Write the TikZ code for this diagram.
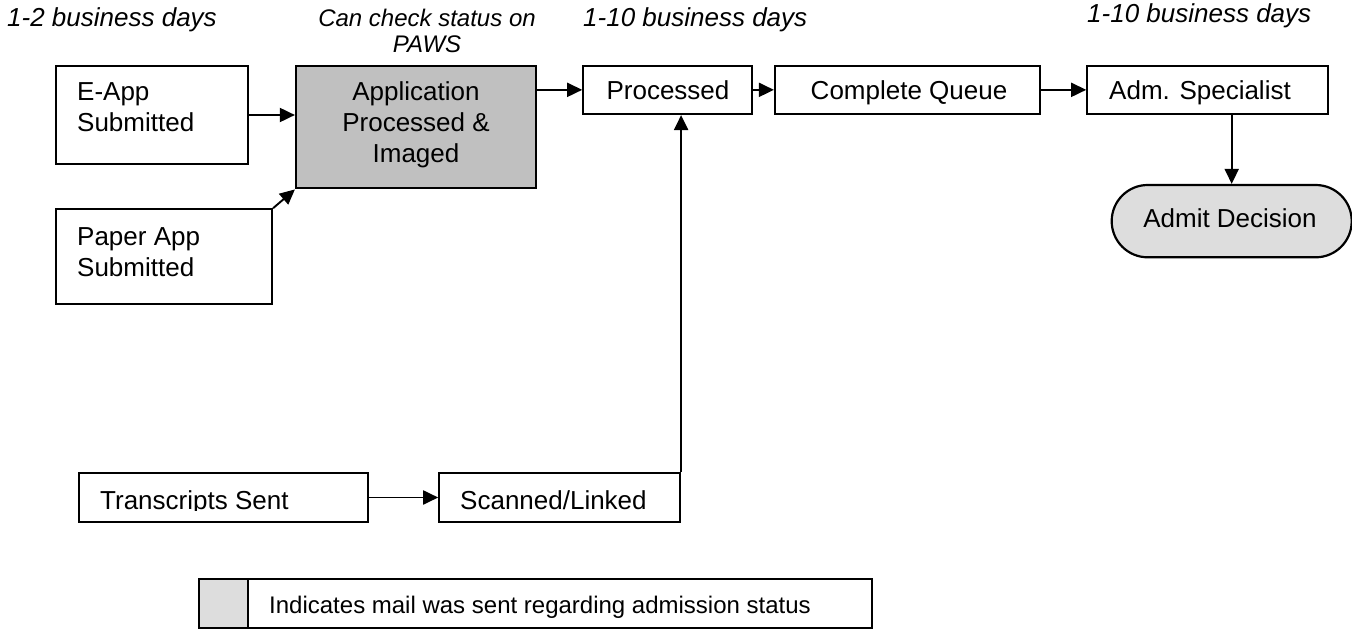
\documentclass[tikz,border=0pt]{standalone}
\usepackage{fontspec}
\setmainfont{Liberation Sans}
\usetikzlibrary{arrows.meta}
\definecolor{darkfill}{HTML}{C0C0C0}
\definecolor{lightfill}{HTML}{DDDDDD}
\begin{document}
\begin{tikzpicture}[x=1pt,y=-1pt,
  box/.style={draw, line width=2.2pt, rectangle, inner sep=0pt},
  conn/.style={line width=1.9pt, -{Triangle[length=15pt,width=14pt]}},
  txt/.style={inner sep=0pt, font=\fontsize{26}{31}\selectfont},
  ital/.style={inner sep=0pt, font=\fontsize{26}{31}\selectfont\itshape},
  smallital/.style={inner sep=0pt, font=\fontsize{24}{26}\selectfont\itshape},
  legtxt/.style={inner sep=0pt, font=\fontsize{24}{28}\selectfont}]
\useasboundingbox (0,0) rectangle (1352,631);

% boxes
\node[box, minimum width=192.6pt, minimum height=98.6pt] (eapp) at (152,115) {};
\node[box, fill=darkfill, minimum width=240pt, minimum height=122.3pt] (app) at (416,127.2) {};
\node[box, minimum width=216.3pt, minimum height=94.7pt] (paper) at (163.85,256.65) {};
\node[box, minimum width=169pt, minimum height=48.3pt] (proc) at (667.8,89.85) {};
\node[box, minimum width=265pt, minimum height=48.3pt] (cq) at (907.5,89.85) {};
\node[box, minimum width=241pt, minimum height=48.3pt] (adm) at (1207.8,89.85) {};
\node[box, fill=lightfill, rounded corners=36pt, minimum width=240pt, minimum height=72.3pt] (admit) at (1231.7,221.15) {};
\node[box, minimum width=289pt, minimum height=48.4pt] (trans) at (223.8,497.5) {};
\node[box, minimum width=240.7pt, minimum height=48.4pt] (scan) at (559.65,497.5) {};
\node[box, fill=lightfill, minimum width=49pt, minimum height=49pt] (leg1) at (223.8,603.8) {};
\node[box, minimum width=624pt, minimum height=49pt] (leg2) at (560.3,603.8) {};

% texts
\node[txt, anchor=north west, align=left] (teapp) at (77,78.3) {\strut E-App\\\strut Submitted};
\node[txt, anchor=north, align=center] (tapp) at (416,78.3) {\strut Application\\\strut Processed \&\\\strut Imaged};
\node[txt, anchor=north west, align=left] (tpaper) at (77,223.3) {\strut Paper App\\\strut Submitted};
\node[txt, anchor=base] (tproc) at (668,100) {Processed};
\node[txt, anchor=base] (tcq) at (909,100) {Complete Queue};
\node[txt, anchor=base west] (tadm) at (1109,100) {Adm. Specialist};
\node[txt, anchor=base] (tadmit) at (1230,228) {Admit Decision};
\coordinate (tcut) at (0,510.5);
\begin{scope}
  \clip (trans.north west) rectangle (trans.east |- tcut);
  \node[txt, anchor=base west] (ttrans) at (100,509) {Transcripts Sent};
\end{scope}
\node[txt, anchor=base west] (tscan) at (460,509) {Scanned/Linked};
\node[legtxt, anchor=base west] (tleg) at (269,613) {Indicates mail was sent regarding admission status};

% headings
\node[ital, anchor=base west] (h1) at (7,27) {1-2 business days};
\node[smallital, anchor=north, align=center] (h2) at (427,7.8) {\strut Can check status on\\\strut PAWS};
\node[ital, anchor=base west] (h3) at (583,27) {1-10 business days};
\node[ital, anchor=base west] (h4) at (1087,23) {1-10 business days};

% connectors
\draw[conn] (eapp.east) -- (app.west |- eapp.east);
\draw[conn] (paper.north east) -- (app.south west);
\draw[conn] (app.east |- proc.west) -- (proc.west);
\draw[conn] (proc.east) -- (cq.west);
\draw[conn] (cq.east) -- (adm.west);
\draw[conn] (admit.north |- adm.south) -- (admit.north);
\draw[conn] (trans.east) -- (scan.west);
\draw[conn, line width=2.2pt] (scan.north east) -- (scan.north east |- proc.south);
\end{tikzpicture}
\end{document}
